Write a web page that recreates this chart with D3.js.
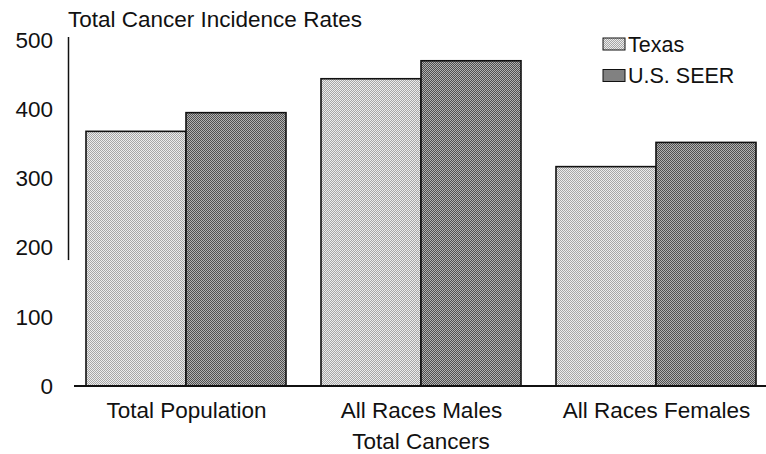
<!DOCTYPE html>
<html>
<head>
<meta charset="utf-8">
<script src="https://cdn.jsdelivr.net/npm/d3@7"></script>
<style>
  html, body { margin: 0; padding: 0; background: #fff; }
  svg { display: block; font-family: "Liberation Sans", Arial, sans-serif; }
</style>
</head>
<body>
<svg id="chart" width="766" height="454"></svg>
<script>
// Cancer incidence rates per group
const categories = ["Total Population", "All Races Males", "All Races Females"];
const seriesNames = ["Texas", "U.S. SEER"];
const texasValues = [368, 444, 317];
const seerValues = [395, 470, 352];
const yTicks = [0, 100, 200, 300, 400, 500];

const svg = d3.select("#chart");
const FONT = "\"Liberation Sans\", Arial, sans-serif";

// Checkerboard dither fills for the two series
const defs = svg.append("defs");
function dither(id, base, dots) {
  const p = defs.append("pattern").attr("id", id)
    .attr("patternUnits", "userSpaceOnUse").attr("width", 2).attr("height", 2);
  p.append("rect").attr("width", 2).attr("height", 2).attr("fill", base);
  p.append("rect").attr("x", 0).attr("y", 0).attr("width", 1).attr("height", 1).attr("fill", dots);
  p.append("rect").attr("x", 1).attr("y", 1).attr("width", 1).attr("height", 1).attr("fill", dots);
}
dither("fillTexas", "#ececec", "#a6a6a6");
dither("fillSeer", "#b2b2b2", "#505050");
const fills = ["url(#fillTexas)", "url(#fillSeer)"];

const y = d3.scaleLinear().domain([0, 500]).range([386, 40]);
const x0 = d3.scaleBand().domain(categories).range([68, 774])
  .paddingInner(35 / 235).paddingOuter(17 / 235).round(true);
const x1 = d3.scaleBand().domain(seriesNames).range([0, x0.bandwidth()]).round(true);

const rows = categories.map((c, i) => ({ cat: c, vals: [texasValues[i], seerValues[i]] }));

// Bars
const groups = svg.append("g").selectAll("g").data(rows).join("g")
  .attr("transform", d => `translate(${x0(d.cat)},0)`);
groups.selectAll("rect")
  .data(d => d.vals.map((v, k) => ({ name: seriesNames[k], v, k })))
  .join("rect")
  .attr("x", d => x1(d.name))
  .attr("y", d => y(d.v))
  .attr("width", x1.bandwidth())
  .attr("height", d => y(0) - y(d.v))
  .attr("fill", d => fills[d.k])
  .attr("stroke", "#111")
  .attr("stroke-width", 1.6);

// Y axis (labels plus a short axis rule)
const yAxis = d3.axisLeft(y).tickValues(yTicks).tickSize(0).tickPadding(0);
const gy = svg.append("g").attr("transform", "translate(53,0)").call(yAxis);
gy.select(".domain").remove();
gy.selectAll("text")
  .attr("font-size", 22.5).attr("fill", "#111").attr("font-family", FONT);

svg.append("line")
  .attr("x1", 68.5).attr("x2", 68.5)
  .attr("y1", y(500) - 3).attr("y2", y(182))
  .attr("stroke", "#111").attr("stroke-width", 1.5);

// Baseline
svg.append("line")
  .attr("x1", 74).attr("x2", 766)
  .attr("y1", y(0)).attr("y2", y(0))
  .attr("stroke", "#111").attr("stroke-width", 2);

// Category labels
const xAxis = d3.axisBottom(x0).tickSize(0).tickPadding(0);
const gx = svg.append("g").attr("transform", `translate(0,${y(0)})`).call(xAxis);
gx.select(".domain").remove();
gx.selectAll("text")
  .attr("y", 32).attr("dy", null)
  .attr("font-size", 22.5).attr("fill", "#111").attr("font-family", FONT);

// Axis title
svg.append("text")
  .attr("x", x0("All Races Males") + x0.bandwidth() / 2).attr("y", 449)
  .attr("text-anchor", "middle")
  .attr("font-size", 22.5).attr("fill", "#111")
  .text("Total Cancers");

// Chart title
svg.append("text")
  .attr("x", 68).attr("y", 26.5)
  .attr("font-size", 22.5).attr("fill", "#111")
  .text("Total Cancer Incidence Rates");

// Legend
const legend = svg.append("g").selectAll("g").data(seriesNames).join("g")
  .attr("transform", (d, i) => `translate(603,${38 + i * 31.5})`);
legend.append("rect")
  .attr("width", 22).attr("height", 12)
  .attr("fill", (d, i) => fills[i])
  .attr("stroke", "#111").attr("stroke-width", 1);
legend.append("text")
  .attr("x", 25).attr("y", 13.5)
  .attr("font-size", 21.5).attr("fill", "#111")
  .text(d => d);
</script>
</body>
</html>
